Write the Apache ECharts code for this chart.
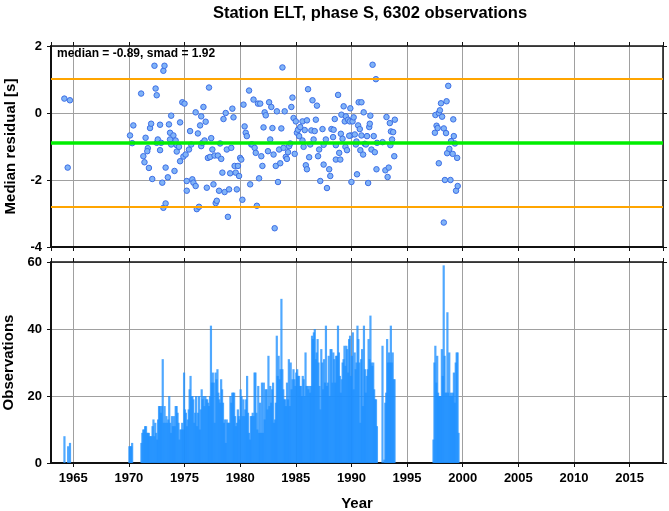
<!DOCTYPE html>
<html><head><meta charset="utf-8">
<script src="https://cdn.jsdelivr.net/npm/echarts@6/dist/echarts.min.js"></script>
<style>html,body{margin:0;padding:0;background:#fff}#c{width:669px;height:511px}</style>
</head><body><div id="c"></div>
<script>
const titleText = 'Station ELT, phase S, 6302 observations';
const statsText = 'median = -0.89, smad = 1.92';
const medianLine = -0.89;
const smadUpper = 1.03;
const smadLower = -2.81;
const yearMin = 1963, yearMax = 2018;

const resYears = [1964.2,1964.7,1964.5,1970.1,1970.3,1970.4,1971.1,1971.3,1971.4,1971.5,1971.7,1971.65,1971.8,1971.9,1972.0,1972.1,1972.3,1972.4,1972.5,1972.5,1972.6,1972.8,1972.8,1972.9,1973.0,1973.1,1973.2,1973.1,1973.3,1973.3,1973.5,1973.6,1973.7,1973.7,1973.8,1973.8,1974.0,1974.1,1974.2,1974.3,1974.3,1974.5,1974.6,1974.6,1974.8,1974.9,1975.0,1975.1,1975.2,1975.2,1975.4,1975.5,1975.6,1975.7,1975.8,1976.0,1976.0,1976.1,1976.2,1976.3,1976.4,1976.5,1976.5,1976.6,1976.7,1976.8,1976.9,1977.0,1977.1,1977.2,1977.3,1977.4,1977.5,1977.6,1977.7,1977.8,1977.9,1978.0,1978.1,1978.2,1978.3,1978.4,1978.5,1978.6,1978.7,1978.8,1978.9,1979.0,1979.1,1979.2,1979.3,1979.4,1979.5,1979.6,1979.7,1979.8,1979.9,1980.0,1980.1,1980.2,1980.3,1980.4,1980.5,1980.6,1980.8,1980.9,1981.0,1981.1,1981.2,1981.3,1981.4,1981.5,1981.6,1981.7,1981.8,1981.9,1982.0,1982.1,1982.2,1982.3,1982.5,1982.6,1982.7,1982.8,1982.9,1983.0,1983.1,1983.2,1983.3,1983.4,1983.5,1983.6,1983.7,1983.8,1983.9,1984.0,1984.1,1984.2,1984.3,1984.4,1984.5,1984.6,1984.7,1984.8,1984.9,1985.0,1985.1,1985.2,1985.3,1985.4,1985.6,1985.7,1985.8,1985.9,1986.0,1986.1,1986.2,1986.3,1986.4,1986.5,1986.6,1986.8,1986.9,1987.0,1987.1,1987.2,1987.4,1987.5,1987.7,1987.8,1988.0,1988.1,1988.2,1988.4,1988.5,1988.6,1988.8,1988.9,1988.6,1989.0,1989.05,1989.2,1989.1,1989.3,1989.4,1989.5,1989.46,1989.6,1989.7,1989.9,1989.85,1990.0,1989.94,1990.1,1990.2,1990.3,1990.4,1990.5,1990.6,1990.65,1990.75,1990.8,1990.9,1990.9,1991.05,1991.1,1991.2,1991.3,1991.4,1991.5,1991.6,1991.65,1991.7,1991.8,1991.9,1992.0,1992.1,1992.2,1992.25,1992.3,1992.8,1993.05,1993.15,1993.25,1993.35,1993.45,1993.5,1993.55,1993.65,1993.75,1993.85,1993.9,1997.5,1997.55,1997.65,1997.75,1997.85,1997.85,1997.95,1998.05,1998.15,1998.3,1998.3,1998.4,1998.5,1998.55,1998.6,1998.7,1998.8,1998.9,1998.95,1999.1,1999.15,1999.2,1999.3,1999.4,1999.5,1999.55,1986.0,1986.7,1985.6,1987.5,1988.35,1989.8,1990.45];
const resValues = [0.43,0.38,-1.63,-0.67,-0.90,-0.37,0.58,-1.29,-1.47,-0.74,-1.05,-1.14,-1.64,-0.45,-0.32,-1.97,1.41,0.73,0.53,-0.89,-0.79,-0.35,-1.11,-0.89,-2.08,1.26,1.41,-2.83,-2.70,-1.63,-1.92,-0.34,-0.59,-0.79,-0.08,-0.94,-0.67,-1.73,-0.82,-0.96,-1.15,-1.01,-0.28,-1.44,0.32,-1.30,0.28,-1.24,-2.32,-2.03,-1.09,-0.54,-0.94,-1.98,-2.08,0.02,-2.18,-2.87,-0.61,-2.80,-0.37,-0.10,-0.99,-0.89,0.18,-0.82,-0.26,-2.23,-1.34,0.76,-1.31,-0.75,-1.09,-2.13,-1.27,-2.69,-2.62,-1.27,-2.32,-0.91,-1.37,-1.78,-0.18,-2.36,0.00,-1.09,-3.10,-2.28,-1.80,-1.04,0.13,-0.13,-1.58,-1.78,-2.28,-1.58,-1.88,-1.34,-1.39,-2.59,0.25,-0.40,-0.59,-0.69,0.67,-2.13,-0.94,-0.94,0.40,-1.04,-1.19,-2.77,0.28,-1.95,0.28,-1.29,-1.58,-0.43,0.02,-0.07,-1.14,0.32,-0.79,0.18,-0.45,-1.24,-3.44,-1.58,0.05,-2.06,-1.09,-1.50,-0.46,1.36,-1.04,0.05,-1.31,-1.37,-1.17,-0.99,-0.91,0.18,0.46,-0.15,-1.22,-0.25,-0.59,-0.50,-0.69,-0.42,-0.25,-1.01,-0.51,-1.56,-1.68,0.71,-1.32,-0.94,-0.52,0.38,-0.79,-0.20,0.22,-1.29,-1.09,-2.03,-0.48,-1.54,-0.79,-2.24,-1.68,-1.88,-0.48,-0.50,-0.18,-0.96,0.54,-1.19,-1.39,-1.39,-0.62,-0.77,-0.05,0.20,-0.25,-0.10,-1.01,-1.11,-0.20,0.14,-0.25,-2.06,-0.67,-0.25,-0.13,-0.64,-0.94,-1.83,-0.37,0.32,-0.48,-1.11,0.32,-0.67,-1.24,0.02,-0.92,-0.94,-0.69,-2.09,-0.42,-0.32,-0.08,-1.09,1.44,-0.69,-1.17,1.01,-1.68,-0.89,-0.87,-1.71,-0.12,-1.91,-1.63,-0.30,-0.96,-0.55,-0.79,-0.57,-1.29,-0.20,-0.59,-0.06,-0.38,-0.45,-1.50,0.00,0.08,0.29,-0.11,-0.46,-3.27,-2.00,-0.60,0.35,-1.20,0.81,-1.07,-2.00,-0.84,-1.22,-0.19,-0.69,-0.91,-2.32,-1.34,-2.18,-0.22,-0.54,-0.82,-0.95,-0.72,-0.68,-0.85];

const obsYears = [1964,1970,1971,1972,1973,1974,1975,1976,1977,1978,1979,1980,1981,1982,1983,1984,1985,1986,1987,1988,1989,1990,1991,1992,1993,1997,1998,1999];
const obsMonthly = [
  [0,0,8,0,0,0,5,0,6,0,0,0],
  [5,5,5,6,0,0,0,0,0,0,0,0],
  [0,6,9,10,10,11,11,9,9,9,8,8],
  [8,11,13,8,12,9,7,13,17,17,15,17],
  [31,12,17,12,14,12,13,20,12,9,14,11],
  [14,11,17,17,15,12,7,10,10,12,10,27],
  [16,15,11,13,16,22,26,20,20,19,12,15],
  [20,11,15,20,10,16,22,19,20,17,20,19],
  [19,18,17,20,41,24,27,24,12,27,25,28],
  [21,19,18,25,22,18,12,13,6,13,12,12],
  [12,20,18,21,21,21,14,11,12,16,14,13],
  [22,20,14,19,14,16,19,26,15,9,7,14],
  [14,15,14,27,27,15,10,23,9,18,9,24],
  [9,24,13,22,22,16,32,17,23,18,22,24],
  [12,13,18,38,26,32,25,28,49,28,22,19],
  [19,17,24,19,31,17,30,22,25,28,25,23],
  [27,28,26,26,23,23,20,26,25,20,33,23],
  [23,22,23,21,23,38,37,39,40,31,33,37],
  [30,23,16,34,30,22,31,24,41,23,24,32],
  [20,34,34,24,33,31,24,32,32,41,33,26],
  [21,25,30,31,35,29,35,34,27,37,38,26],
  [32,39,22,33,28,30,41,37,30,12,31,34],
  [17,41,28,21,26,28,37,31,44,30,29,30],
  [22,19,19,11,0,0,0,0,0,35,0,1],
  [18,21,37,30,33,30,41,30,33,25,25,0],
  [0,0,0,0,7,30,35,24,32,21,20,20],
  [20,34,26,59,32,21,21,45,21,33,20,21],
  [20,21,27,18,30,33,33,9,0,0,0,0]
];

const resData = resYears.map((x, i) => [x, resValues[i]]);
const obsData = [];
obsYears.forEach((y, i) => {
  obsMonthly[i].forEach((v, m) => { if (v > 0) obsData.push([y + (m + 0.5) / 12, v]); });
});

const FONT = "'Liberation Sans', Arial, Helvetica, sans-serif";
const gridCol = '#a0a0a0';
function xAx(grid, pos, labels) {
  return {
    type: 'value', gridIndex: grid, position: pos, min: yearMin, max: yearMax, splitNumber: 11,
    axisLine: { show: true, onZero: false, lineStyle: { color: '#111', width: pos === 'bottom' ? 2 : 1.5 } },
    axisTick: { show: true, inside: false, length: 4, lineStyle: { color: '#111', width: 1 } },
    splitLine: { show: pos === 'bottom', lineStyle: { color: gridCol, width: 1 } },
    axisLabel: { show: labels, showMinLabel: false, showMaxLabel: false, color: '#000', fontFamily: FONT, fontWeight: 'bold', fontSize: 13, margin: 9, formatter: v => String(v) },
    name: labels ? 'Year' : '', nameLocation: 'middle', nameGap: 33,
    nameTextStyle: { color: '#000', fontFamily: FONT, fontWeight: 'bold', fontSize: 15 }
  };
}
function yAx(grid, pos, min, max, interval, name) {
  const left = pos === 'left';
  return {
    type: 'value', gridIndex: grid, position: pos, min, max, interval,
    axisLine: { show: true, onZero: false, lineStyle: { color: '#111', width: left ? 2 : 1.5 } },
    axisTick: { show: true, inside: false, length: 4, lineStyle: { color: '#111', width: 1 } },
    splitLine: { show: left, lineStyle: { color: gridCol, width: 1 } },
    axisLabel: { show: left, color: '#000', fontFamily: FONT, fontWeight: 'bold', fontSize: 13, margin: 9 },
    name: left ? name : '', nameLocation: 'middle', nameGap: 33,
    nameTextStyle: { color: '#000', fontFamily: FONT, fontWeight: 'bold', fontSize: 15 }
  };
}

const chart = echarts.init(document.getElementById('c'), null, { renderer: 'canvas' });
chart.setOption({
  animation: false,
  backgroundColor: '#fff',
  grid: [
    { left: 51, top: 46, width: 612, height: 201, containLabel: false, outerBoundsMode: 'none' },
    { left: 51, top: 262, width: 612, height: 201, containLabel: false, outerBoundsMode: 'none' }
  ],
  graphic: [
    { type: 'text', x: 370, y: 13, style: { text: titleText, font: "bold 16.5px " + FONT, fill: '#000', align: 'center', verticalAlign: 'middle' } },
    { type: 'text', x: 57, y: 53.5, z: 10, style: { text: statsText, font: "bold 12px " + FONT, fill: '#000', align: 'left', verticalAlign: 'middle' } }
  ],
  xAxis: [xAx(0, 'bottom', false), xAx(0, 'top', false), xAx(1, 'bottom', true), xAx(1, 'top', false)],
  yAxis: [yAx(0, 'left', -4, 2, 2, 'Median residual [s]'), yAx(0, 'right', -4, 2, 2, ''),
          yAx(1, 'left', 0, 60, 20, 'Observations'), yAx(1, 'right', 0, 60, 20, '')],
  series: [
    {
      type: 'line', xAxisIndex: 0, yAxisIndex: 0, data: [], z: 1, silent: true,
      markLine: {
        silent: true, symbol: ['none', 'none'], label: { show: false }, animation: false,
        data: [
          { yAxis: smadUpper, lineStyle: { color: '#ffa500', width: 2.2, type: 'solid' } },
          { yAxis: smadLower, lineStyle: { color: '#ffa500', width: 2.2, type: 'solid' } },
          { yAxis: medianLine, lineStyle: { color: '#00ee00', width: 3.5, type: 'solid' } }
        ]
      }
    },
    {
      type: 'scatter', xAxisIndex: 0, yAxisIndex: 0, data: resData, z: 3,
      symbol: 'circle', symbolSize: 5.5,
      itemStyle: { color: '#80b3f7', borderColor: '#3d6fe6', borderWidth: 1, opacity: 1 }
    },
    {
      type: 'bar', xAxisIndex: 2, yAxisIndex: 2, data: obsData, barWidth: 2.2, z: 2,
      itemStyle: { color: 'rgba(30,144,255,0.78)' }
    }
  ]
});
</script></body></html>
